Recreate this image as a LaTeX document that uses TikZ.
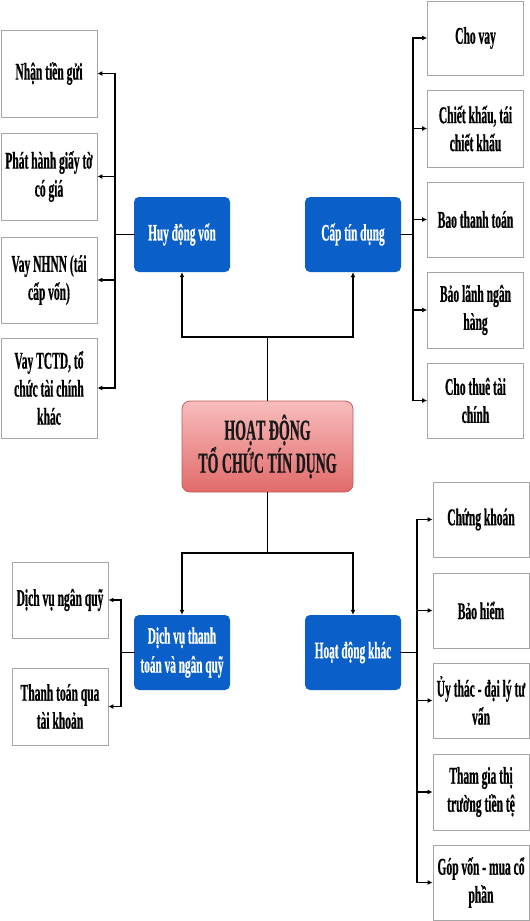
\documentclass[tikz,border=0pt]{standalone}
\usepackage{fontspec}
\setmainfont{Liberation Serif}[FakeStretch=0.48, BoldFeatures={FakeBold=0.6}]
\usepackage{xcolor}
\usepackage{tikz}
\usetikzlibrary{arrows.meta}
\definecolor{hubblue}{HTML}{0A5FC8}
\definecolor{leafgray}{HTML}{A6A6A6}
\definecolor{roottop}{HTML}{F8BDBD}
\definecolor{rootbot}{HTML}{E26A6A}
\definecolor{rootline}{HTML}{C45C5C}
\tikzset{
  leaf/.style={draw=leafgray, line width=0.8pt, fill=white, minimum width=96pt,
    align=center, inner sep=2pt, text=black, font=\fontsize{24}{28}\selectfont\bfseries},
  hub/.style={fill=hubblue, rounded corners=5pt, minimum width=96pt, minimum height=75pt,
    align=center, text=white, font=\fontsize{23.5}{29}\selectfont\bfseries},
  root/.style={draw=rootline, line width=0.8pt, top color=roottop, bottom color=rootbot,
    rounded corners=8pt, minimum width=171pt, minimum height=91pt,
    align=center, text=black!90, font=\fontsize{29}{33}\selectfont\bfseries},
  link/.style={line width=1.6pt, draw=black, line cap=rect},
  arr/.style={line width=1.6pt, draw=black, -{Latex[length=5pt,width=5pt]}},
}

\begin{document}
\begin{tikzpicture}[x=1pt, y=-1pt]
  \useasboundingbox (0,0) rectangle (530,921);
  \fill[white] (0,0) rectangle (530,921);

  % bus lines and junctions
  \coordinate (busL) at (115,0);
  \coordinate (busR) at (413,0);
  \coordinate (busDL) at (121,0);
  \coordinate (busDR) at (417,0);
  \coordinate (jtop) at (267.5,337);
  \coordinate (jbot) at (267.5,553);

  % centre
  \node[root] (hd) at (267.5,446.5) {HOẠT ĐỘNG\\TỔ CHỨC TÍN DỤNG};

  % main branches
  \node[hub] (huy) at (182,234.5) {Huy động vốn};
  \node[hub] (cap) at (353,234.5) {Cấp tín dụng};
  \node[hub] (dv)  at (182,652.5) {Dịch vụ thanh\\toán và ngân quỹ};
  \node[hub] (khac) at (353,652.5) {Hoạt động khác};

  % huy dong von
  \node[leaf, minimum height=87pt]  (nhan)  at (49,73.5) {Nhận tiền gửi};
  \node[leaf, minimum height=87pt]  (phat)  at (49,176.5) {Phát hành giấy tờ\\có giá};
  \node[leaf, minimum height=86pt]  (nhnn)  at (49,280) {Vay NHNN (tái\\cấp vốn)};
  \node[leaf, minimum height=100pt] (tctd)  at (49,388) {Vay TCTD, tổ\\chức tài chính\\khác};

  % cap tin dung
  \node[leaf, minimum height=74pt] (vay)   at (475.5,38) {Cho vay};
  \node[leaf, minimum height=77pt] (chiet) at (475.5,128.5) {Chiết khấu, tái\\chiết khấu};
  \node[leaf, minimum height=75pt] (bao)   at (475.5,219.5) {Bao thanh toán};
  \node[leaf, minimum height=76pt] (lanh)  at (475.5,310) {Bảo lãnh ngân\\hàng};
  \node[leaf, minimum height=75pt] (thue)  at (475.5,400.5) {Cho thuê tài\\chính};

  % dich vu
  \node[leaf, minimum height=76pt] (quy) at (60,600) {Dịch vụ ngân quỹ};
  \node[leaf, minimum height=77pt] (tk)  at (60,706.5) {Thanh toán qua\\tài khoản};

  % hoat dong khac
  \node[leaf, minimum height=75pt] (ck)   at (481,519.5) {Chứng khoán};
  \node[leaf, minimum height=75pt] (bh)   at (481,610.5) {Bảo hiểm};
  \node[leaf, minimum height=75pt] (uy)   at (481,700.5) {Ủy thác - đại lý tư\\vấn};
  \node[leaf, minimum height=76pt] (tg)   at (481,792) {Tham gia thị\\trường tiền tệ};
  \node[leaf, minimum height=75pt] (gop)  at (481,882.5) {Góp vốn - mua cổ\\phần};

  % centre to branches
  \draw[link] (hd.north) -- (jtop);
  \draw[link] (huy.south |- jtop) -- (cap.south |- jtop);
  \draw[arr] (huy.south |- jtop) -- (huy.south);
  \draw[arr] (cap.south |- jtop) -- (cap.south);
  \draw[link] (hd.south) -- (jbot);
  \draw[link] (dv.north |- jbot) -- (khac.north |- jbot);
  \draw[arr] (dv.north |- jbot) -- (dv.north);
  \draw[arr] (khac.north |- jbot) -- (khac.north);

  % huy dong von to leaves
  \draw[link] (huy.west) -- (huy.west -| busL);
  \draw[link] (busL |- nhan.east) -- (busL |- tctd.east);
  \draw[arr] (busL |- nhan.east) -- (nhan.east);
  \draw[arr] (busL |- phat.east) -- (phat.east);
  \draw[arr] (busL |- nhnn.east) -- (nhnn.east);
  \draw[arr] (busL |- tctd.east) -- (tctd.east);

  % cap tin dung to leaves
  \draw[link] (cap.east) -- (cap.east -| busR);
  \draw[link] (busR |- vay.west) -- (busR |- thue.west);
  \draw[arr] (busR |- vay.west) -- (vay.west);
  \draw[arr] (busR |- chiet.west) -- (chiet.west);
  \draw[arr] (busR |- bao.west) -- (bao.west);
  \draw[arr] (busR |- lanh.west) -- (lanh.west);
  \draw[arr] (busR |- thue.west) -- (thue.west);

  % dich vu to leaves
  \draw[link] (dv.west) -- (dv.west -| busDL);
  \draw[link] (busDL |- quy.east) -- (busDL |- tk.east);
  \draw[arr] (busDL |- quy.east) -- (quy.east);
  \draw[arr] (busDL |- tk.east) -- (tk.east);

  % hoat dong khac to leaves
  \draw[link] (khac.east) -- (khac.east -| busDR);
  \draw[link] (busDR |- ck.west) -- (busDR |- gop.west);
  \draw[arr] (busDR |- ck.west) -- (ck.west);
  \draw[arr] (busDR |- bh.west) -- (bh.west);
  \draw[arr] (busDR |- uy.west) -- (uy.west);
  \draw[arr] (busDR |- tg.west) -- (tg.west);
  \draw[arr] (busDR |- gop.west) -- (gop.west);
\end{tikzpicture}
\end{document}
